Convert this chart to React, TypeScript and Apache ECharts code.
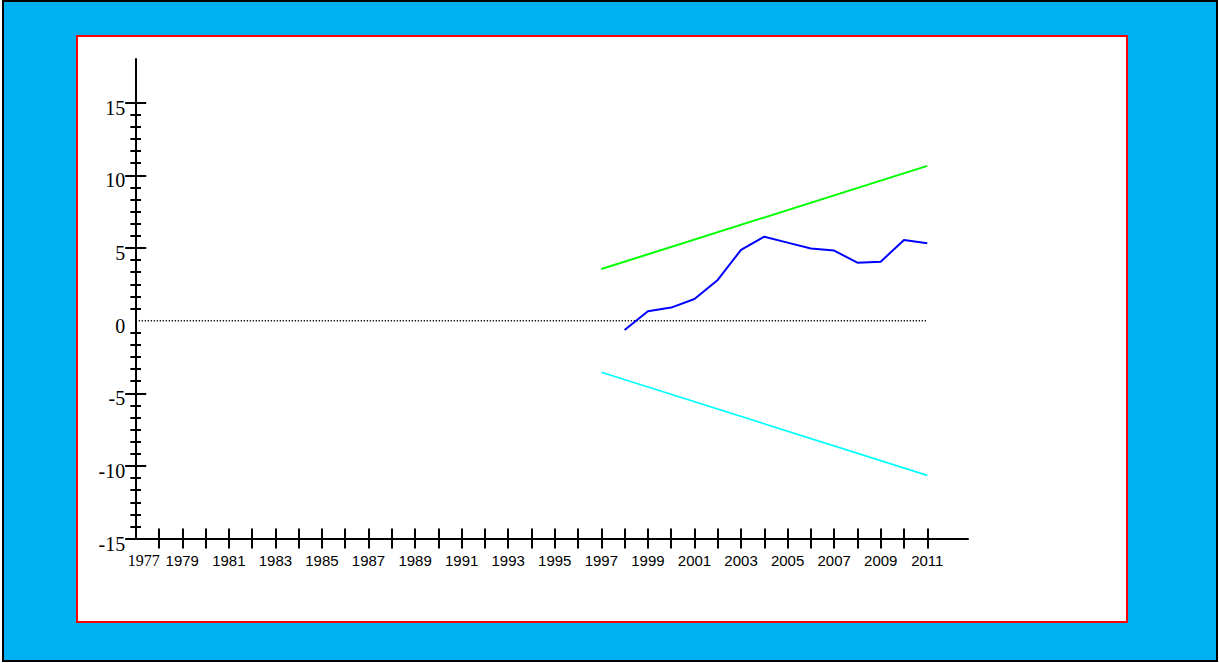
import React, { useEffect, useRef } from 'react';
import * as echarts from 'echarts';

// ---- data ----
const actualYears = [1998, 1999, 2000, 2001, 2002, 2003, 2004, 2005, 2006, 2007, 2008, 2009, 2010, 2011];
const actualValues = [-0.64, 0.65, 0.9, 1.49, 2.8, 4.87, 5.78, 5.37, 4.96, 4.82, 3.99, 4.06, 5.55, 5.33];

const bandYears = [1997, 2011];
const upperBand = [3.55, 10.65];
const lowerBand = [-3.55, -10.65];

const zeroYears = [1977, 2011];
const zeroValues = [0, 0];

const xYears = [
  '1977', '1978', '1979', '1980', '1981', '1982', '1983', '1984', '1985', '1986',
  '1987', '1988', '1989', '1990', '1991', '1992', '1993', '1994', '1995', '1996',
  '1997', '1998', '1999', '2000', '2001', '2002', '2003', '2004', '2005', '2006',
  '2007', '2008', '2009', '2010', '2011',
];
const yTickLabels = ['-15', '-10', '-5', '0', '5', '10', '15'];
const yMinorDivisions = 6;

const zip = (xs: number[], ys: number[]) => xs.map((x, i) => [x, ys[i]]);

// category ticks for the y axis (majors + minor divisions)
const yCats: string[] = [];
yTickLabels.forEach((lab, i) => {
  yCats.push(lab);
  if (i < yTickLabels.length - 1) {
    for (let k = 1; k < yMinorDivisions; k++) yCats.push(lab + '#' + k);
  }
});

const SERIF = "'Times New Roman', 'Liberation Serif', serif";
const SANS = "Arial, 'Liberation Sans', sans-serif";

const hidden = {
  axisLine: { show: false }, axisTick: { show: false }, axisLabel: { show: false },
  splitLine: { show: false }, splitArea: { show: false },
};

export default function App() {
  const ref = useRef<HTMLDivElement>(null);

  useEffect(() => {
    if (!ref.current) return;
    const chart = echarts.init(ref.current, undefined, { renderer: 'svg' });

    const G0 = { left: 135.7, top: 59.1, width: 832.3, height: 479.5 };
    const G1 = { left: 135.7, top: 102.7, width: 791.6, height: 435.9 };
    const G2 = { left: 135.7, top: 107.6, width: 791.6, height: 435.9 };

    chart.setOption({
      animation: false,
      graphic: [
        {
          type: 'rect', z: -10, silent: true,
          shape: { x: 3, y: 1, width: 1214, height: 660 },
          style: { fill: '#00B0F0', stroke: '#000000', lineWidth: 2 },
        },
        {
          type: 'rect', z: -9, silent: true,
          shape: { x: 77, y: 36, width: 1050, height: 586 },
          style: { fill: '#FFFFFF', stroke: '#FF0000', lineWidth: 2 },
        },
      ],
      grid: [
        { ...G0, containLabel: false, outerBoundsMode: 'none' },
        { ...G1, containLabel: false, outerBoundsMode: 'none' },
        { ...G2, containLabel: false, outerBoundsMode: 'none' },
      ],
      xAxis: [
        {
          gridIndex: 0, type: 'value', min: 1977, max: 2012.75,
          axisLine: { show: true, onZero: false, lineStyle: { color: '#000', width: 2 } },
          axisTick: { show: false }, axisLabel: { show: false },
          splitLine: { show: false }, splitArea: { show: false },
        },
        {
          gridIndex: 1, type: 'category', data: xYears, boundaryGap: false,
          position: 'bottom', offset: -10,
          axisLine: { show: false },
          axisTick: {
            show: true, length: 20,
            interval: (idx: number) => idx !== 0,
            lineStyle: { color: '#000', width: 2 },
          },
          axisLabel: {
            show: true, margin: 24,
            interval: (idx: number) => idx % 2 === 0,
            color: '#000', fontSize: 15, fontFamily: SANS,
            formatter: (v: string) => (v === '1977' ? '{s|' + v + '}' : v),
            rich: {
              s: { fontFamily: SERIF, fontSize: 16, color: '#000', padding: [0, 0, 0, 16] },
            },
          },
          splitLine: { show: false }, splitArea: { show: false },
        },
        {
          gridIndex: 2, type: 'category', data: xYears, boundaryGap: false, show: false,
          ...hidden,
        },
      ],
      yAxis: [
        {
          gridIndex: 0, type: 'value', min: -15, max: 18,
          axisLine: { show: true, onZero: false, lineStyle: { color: '#000', width: 2 } },
          axisTick: { show: false }, axisLabel: { show: false },
          splitLine: { show: false }, splitArea: { show: false },
        },
        {
          gridIndex: 1, type: 'category', data: yCats, boundaryGap: false,
          position: 'left', offset: -10.5,
          axisLine: { show: false },
          axisTick: {
            show: true, length: 21,
            interval: (idx: number, v: string) => idx % yMinorDivisions === 0 && v !== '0',
            lineStyle: { color: '#000', width: 2 },
          },
          axisLabel: { show: false },
          splitLine: { show: false }, splitArea: { show: false },
        },
        {
          gridIndex: 1, type: 'category', data: yCats, boundaryGap: false,
          position: 'left', offset: -5.3,
          axisLine: { show: false },
          axisTick: {
            show: true, length: 10.6,
            interval: (idx: number) => idx % yMinorDivisions !== 0,
            lineStyle: { color: '#000', width: 2 },
          },
          axisLabel: { show: false },
          splitLine: { show: false }, splitArea: { show: false },
        },
        {
          gridIndex: 2, type: 'category', data: yCats, boundaryGap: false,
          position: 'left', offset: 0,
          axisLine: { show: false },
          axisTick: { show: false },
          axisLabel: {
            show: true, margin: 10.5,
            interval: (idx: number) => idx % yMinorDivisions === 0,
            color: '#000', fontSize: 20, fontFamily: SERIF,
          },
          splitLine: { show: false }, splitArea: { show: false },
        },
      ],
      series: [
        {
          type: 'line', xAxisIndex: 0, yAxisIndex: 0, silent: true,
          data: zip(zeroYears, zeroValues), symbol: 'none',
          lineStyle: { color: '#000', width: 1.5, type: [1.2, 1.8] },
        },
        {
          type: 'line', xAxisIndex: 0, yAxisIndex: 0, silent: true,
          data: zip(bandYears, upperBand), symbol: 'none',
          lineStyle: { color: '#00FF00', width: 2 },
        },
        {
          type: 'line', xAxisIndex: 0, yAxisIndex: 0, silent: true,
          data: zip(bandYears, lowerBand), symbol: 'none',
          lineStyle: { color: '#00FFFF', width: 1.7 },
        },
        {
          type: 'line', xAxisIndex: 0, yAxisIndex: 0, silent: true,
          data: zip(actualYears, actualValues), symbol: 'none',
          lineStyle: { color: '#0000FF', width: 2 },
        },
      ],
    });

    return () => chart.dispose();
  }, []);

  return (
    <div
      ref={ref}
      style={{ position: 'absolute', left: 0, top: 0, width: 1219, height: 663 }}
    />
  );
}
